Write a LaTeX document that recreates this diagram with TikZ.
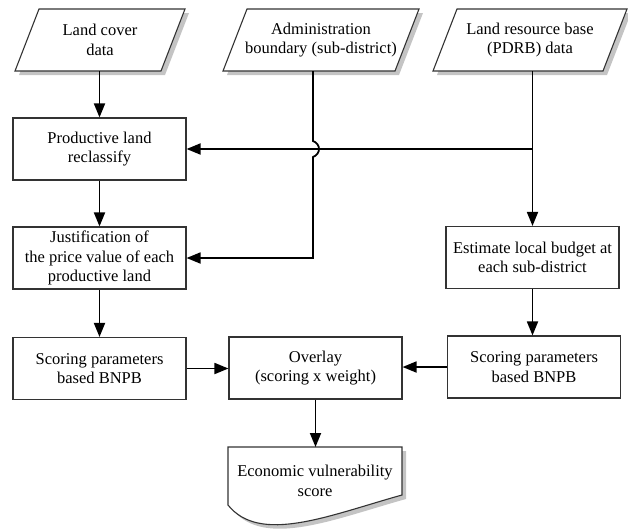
\documentclass[tikz,border=0pt]{standalone}
\usepackage{fontspec}
\setmainfont{Liberation Serif}
\usetikzlibrary{calc,arrows.meta}
\definecolor{boxline}{HTML}{333333}
\definecolor{shadowgray}{HTML}{C4C4C4}
\newcommand\paragram[5]{% #1 name, #2 cx, #3 cy, #4 half width, #5 text
  \fill[shadowgray] (#2-#4+12+4,#3-31+4) -- (#2+#4+12+4,#3-31+4) -- (#2+#4-12+4,#3+31+4) -- (#2-#4-12+4,#3+31+4) -- cycle;
  \draw[boxline, line width=1.1pt, fill=white] (#2-#4+12,#3-31) -- (#2+#4+12,#3-31) -- (#2+#4-12,#3+31) -- (#2-#4-12,#3+31) -- cycle;
  \node[txt, minimum height=62pt] (#1) at (#2,#3) {#5};
}
\begin{document}
\begin{tikzpicture}[x=1pt,y=-1pt,
  font=\fontsize{16.5}{19.5}\selectfont,
  txt/.style={align=center, inner sep=0pt},
  procbox/.style={draw=boxline, line width=1.1pt, fill=white, minimum width=173pt, minimum height=62pt, align=center, inner sep=0pt},
  conn/.style={line width=1.8pt, -{Triangle[length=14pt,width=11pt]}},
  plainline/.style={line width=1.8pt}
]
\useasboundingbox (0,0) rectangle (628,528);

% input parallelograms
\paragram{p1}{100}{40}{73}{Land cover\\data}
\paragram{p2}{321}{40}{86}{Administration\\boundary (sub-district)}
\paragram{p3}{530}{40}{85}{Land resource base\\(PDRB) data}

% process boxes
\node[procbox] (prod) at (99.5,149) {Productive land\\reclassify};
\node[procbox] (just) at (99.5,258) {Justification of\\the price value of each\\productive land};
\node[procbox] (est) at (532.5,257.5) {Estimate local budget at\\each sub-district};
\node[procbox] (scL) at (99.5,368.5) {Scoring parameters\\based BNPB};
\node[procbox] (over) at (315.5,368) {Overlay\\(scoring x weight)};
\node[procbox] (scR) at (534,367) {Scoring parameters\\based BNPB};

% document shape
\fill[shadowgray] (232,451) -- (406,451) -- (406,499) .. controls (334,519) and (264,549) .. (232,509) -- cycle;
\draw[boxline, line width=1.1pt, fill=white] (228,447) -- (402,447) -- (402,495) .. controls (330,515) and (260,545) .. (228,505) -- cycle;
\node[txt] (doc) at (315,481) {Economic vulnerability\\score};
\coordinate (dtop) at (315.5,447);

% connectors
\draw[conn] (prod.north |- p1.south) -- (prod.north);
\draw[conn] (prod.south) -- (just.north);
\draw[conn] (just.south) -- (scL.north);

\coordinate (j2) at (313,258);
\coordinate (jumpA) at (313,141);
\coordinate (jumpB) at (313,157);
\draw[conn] (p2.south -| j2) -- (jumpA) .. controls ($(jumpA)+(8,3)$) and ($(jumpB)+(8,-3)$) .. (jumpB) -- (j2) -- (just.east);

\draw[conn] (est.north |- p3.south) -- (est.north);
\draw[conn] (est.north |- prod.east) -- (prod.east);
\draw[conn] (est.south) -- (est.south |- scR.north);

\draw[conn] (scL.east) -- (scL.east -| over.west);
\draw[conn] (scR.west) -- (scR.west -| over.east);
\draw[conn] (over.south) -- (dtop);
\end{tikzpicture}
\end{document}
